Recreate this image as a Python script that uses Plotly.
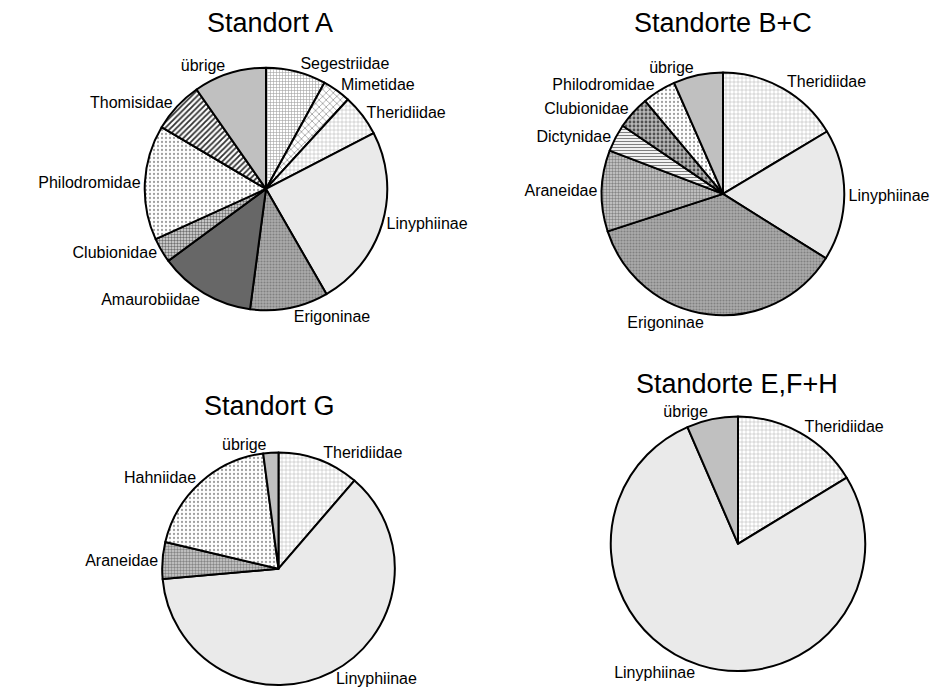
import plotly.graph_objects as go

# ---- data (percent shares, read clockwise from 12 o'clock) ----
titles = ["Standort A", "Standorte B+C", "Standort G", "Standorte E,F+H"]

labels_A = ["Segestriidae", "Mimetidae", "Theridiidae", "Linyphiinae", "Erigoninae",
            "Amaurobiidae", "Clubionidae", "Philodromidae", "Thomisidae", "übrige"]
values_A = [8.0, 3.8, 5.6, 24.3, 10.4, 12.8, 3.3, 15.3, 6.8, 9.7]

labels_BC = ["Theridiidae", "Linyphiinae", "Erigoninae", "Araneidae", "Dictynidae",
             "Clubionidae", "Philodromidae", "übrige"]
values_BC = [16.4, 17.5, 36.1, 10.8, 3.7, 4.4, 4.5, 6.6]

labels_G = ["Theridiidae", "Linyphiinae", "Araneidae", "Hahniidae", "übrige"]
values_G = [11.3, 62.2, 5.1, 19.2, 2.1]

labels_EFH = ["Theridiidae", "Linyphiinae", "übrige"]
values_EFH = [16.3, 77.2, 6.5]

# ---- styles per family: (bgcolor, fgcolor, shape, size, solidity) ----
styles = {
    "Segestriidae": ("#ffffff", "#a0a0a0", "+", 3, 0.35),
    "Mimetidae": ("#ffffff", "#8a8a8a", "x", 5, 0.25),
    "Theridiidae": ("#ffffff", "#a8a8a8", "+", 4, 0.2),
    "Linyphiinae": ("#f8f8f8", "#d2d2d2", ".", 2, 0.35),
    "Erigoninae": ("#ababab", "#808080", ".", 3, 0.4),
    "Amaurobiidae": ("#676767", "#676767", "", 4, 0.3),
    "Clubionidae": ("#e0e0e0", "#707070", ".", 3, 0.5),
    "Philodromidae": ("#ffffff", "#a0a0a0", ".", 4, 0.25),
    "Thomisidae": ("#ffffff", "#303030", "/", 4, 0.45),
    "übrige": ("#c0c0c0", "#c0c0c0", "", 4, 0.3),
    "Araneidae": ("#d0d0d0", "#858585", ".", 3, 0.5),
    "Dictynidae": ("#ffffff", "#808080", "-", 3, 0.4),
    "Hahniidae": ("#ffffff", "#a0a0a0", ".", 4, 0.25),
}
clubionidae_BC = ("#b8b8b8", "#505050", ".", 4, 0.4)

FONT = "Arial, Liberation Sans, sans-serif"
OFF = 8                      # page body margin of the html file
W, H = 943 - 2 * OFF, 700 - 2 * OFF

# pie geometry in screen pixels: (cx, cy, r)
geom = [(266, 190, 122), (723, 195, 122), (278.5, 572, 117), (738, 547, 128)]
title_pos = [(270, 23), (722.5, 23), (269, 408), (737, 386)]

fig = go.Figure()
datasets = [(labels_A, values_A), (labels_BC, values_BC), (labels_G, values_G), (labels_EFH, values_EFH)]
for i, ((labs, vals), (cx, cy, r)) in enumerate(zip(datasets, geom)):
    cx, cy = cx - OFF, cy - OFF
    st = []
    for lab in labs:
        if i == 1 and lab == "Clubionidae":
            st.append(clubionidae_BC)
        else:
            st.append(styles[lab])
    fig.add_trace(go.Pie(
        labels=labs, values=vals, sort=False, direction="clockwise", rotation=0,
        textinfo="label", textposition="outside",
        textfont=dict(family=FONT, size=16, color="black"),
        marker=dict(
            colors=[s[0] for s in st],
            line=dict(color="black", width=2),
            pattern=dict(shape=[s[2] for s in st], fgcolor=[s[1] for s in st],
                         bgcolor=[s[0] for s in st], size=[s[3] for s in st],
                         solidity=[s[4] for s in st], fillmode="replace"),
        ),
        domain=dict(x=[(cx - r) / W, (cx + r) / W], y=[(H - cy - r) / H, (H - cy + r) / H]),
        showlegend=False,
    ))

for t, (tx, ty) in zip(titles, title_pos):
    fig.add_annotation(text=t, x=(tx - OFF) / W, y=1 - (ty - OFF) / H, xref="paper", yref="paper",
                       xanchor="center", yanchor="middle", showarrow=False,
                       font=dict(family=FONT, size=27, color="black"))

fig.update_layout(width=W, height=H, margin=dict(l=0, r=0, t=0, b=0),
                  paper_bgcolor="white", plot_bgcolor="white",
                  font=dict(family=FONT, color="black"))
fig.write_html("out.html")
